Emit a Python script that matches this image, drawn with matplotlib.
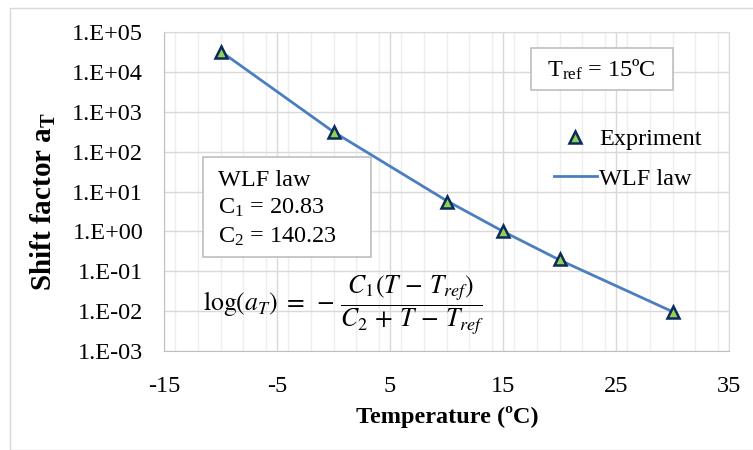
import matplotlib
matplotlib.use("Agg")
import matplotlib.pyplot as plt
from matplotlib.ticker import MultipleLocator, FixedLocator, NullLocator
from matplotlib.patches import Rectangle

# Data
temperature = [-10, 0, 10, 15, 20, 30]
experiment = [3.2e4, 3.1e2, 5.6, 1.0, 0.2, 0.0095]
wlf_law = [3.3e4, 3.13e2, 5.9, 1.0, 0.192, 0.0097]
x_ticks = [-15, -5, 5, 15, 25, 35]
y_ticks = [1e-3, 1e-2, 1e-1, 1e0, 1e1, 1e2, 1e3, 1e4, 1e5]
y_tick_labels = ["1.E-03", "1.E-02", "1.E-01", "1.E+00", "1.E+01",
                 "1.E+02", "1.E+03", "1.E+04", "1.E+05"]

plt.rcParams['font.family'] = ['Liberation Serif', 'DejaVu Serif']
plt.rcParams['mathtext.fontset'] = 'custom'
plt.rcParams['mathtext.rm'] = 'Liberation Serif'
plt.rcParams['mathtext.it'] = 'Liberation Serif:italic'
plt.rcParams['mathtext.bf'] = 'Liberation Serif:bold'

W, H = 753, 450
FS = 17.5
fig = plt.figure(figsize=(W / 100, H / 100), dpi=100)
fig.patches.append(Rectangle((10 / W, 0), 1, 1 - 8 / H, transform=fig.transFigure,
                             fill=False, edgecolor='#D9D9D9', lw=1.0))

ax = fig.add_axes([164 / W, 1 - 351 / H, (729 - 164) / W, (351 - 32) / H])
ax.set_yscale('log')
ax.set_xlim(-15, 35)
ax.set_ylim(1e-3, 1e5)

ax.xaxis.set_major_locator(FixedLocator(x_ticks))
ax.xaxis.set_minor_locator(MultipleLocator(2))
ax.yaxis.set_major_locator(FixedLocator(y_ticks))
ax.yaxis.set_minor_locator(NullLocator())
ax.set_yticklabels(y_tick_labels)
ax.set_xticklabels([str(v) for v in x_ticks])

ax.grid(True, which='major', color='#D9D9D9', lw=1.0)
ax.grid(True, which='minor', axis='x', color='#EEEEEE', lw=1.0)
ax.set_axisbelow(True)
ax.tick_params(which='both', length=0, labelsize=FS)
ax.tick_params(axis='y', pad=15)
ax.tick_params(axis='x', pad=18)
for s in ['left', 'bottom']:
    ax.spines[s].set_color('#BFBFBF')
for s in ['top', 'right']:
    ax.spines[s].set_color('#D9D9D9')

ax.plot(temperature, wlf_law, color='#4A7EC0', lw=2.0, label='WLF law', zorder=2)
ax.plot(temperature, experiment, linestyle='none', marker='^', markersize=8,
        markerfacecolor='#92D050', markeredgecolor='#0B2A5E', markeredgewidth=1.8,
        label='Expriment', zorder=3)

handles, labels = ax.get_legend_handles_labels()
ax.legend([handles[1], handles[0]], [labels[1], labels[0]],
          loc='upper left', bbox_to_anchor=(554 / W, 1 - 128 / H),
          bbox_transform=fig.transFigure, frameon=False, fontsize=FS,
          handlelength=1.75, handletextpad=0.12, labelspacing=0.72,
          borderpad=0, borderaxespad=0)

ax.set_xlabel('Temperature (ºC)', fontsize=17.5, fontweight='bold')
ax.xaxis.set_label_coords((447 - 164) / (729 - 164), -(417 - 351) / (351 - 32))
ax.xaxis.label.set_va('center')
ax.set_ylabel(r'Shift factor a$_\mathbf{T}$', fontsize=21, fontweight='bold')
ax.yaxis.set_label_coords(-(164 - 43) / (729 - 164), (351 - 202) / (351 - 32))
ax.yaxis.label.set_va('center')

# WLF box
fig.patches.append(Rectangle((203 / W, 1 - 257 / H), (371 - 203) / W, 100 / H,
                             transform=fig.transFigure, facecolor='white',
                             edgecolor='#BFBFBF', lw=1.2, zorder=5))
fig.text(218 / W, 1 - 180 / H, 'WLF law', fontsize=FS, va='center', ha='left', zorder=6)
fig.text(218 / W, 1 - 208 / H, r'C$_1$ = 20.83', fontsize=FS, va='center', ha='left', zorder=6)
fig.text(218 / W, 1 - 237 / H, r'C$_2$ = 140.23', fontsize=FS, va='center', ha='left', zorder=6)

# Tref box
fig.patches.append(Rectangle((531 / W, 1 - 90 / H), (673 - 531) / W, 42 / H,
                             transform=fig.transFigure, facecolor='white',
                             edgecolor='#BFBFBF', lw=1.2, zorder=5))
fig.text(601 / W, 1 - 70 / H, r'T$_{\mathrm{ref}}$ = 15ºC', fontsize=FS,
         va='center', ha='center', zorder=6)

# Equation
fig.text(343 / W, 1 - 305 / H,
         r'$\log(a_T)\;=\;-\,\dfrac{C_1(T\,-\,T_{ref})}{C_2\,+\,T\,-\,T_{ref}}$',
         fontsize=18.5, va='center', ha='center', math_fontfamily='stix', zorder=6)

fig.savefig('out.png', dpi=100)
